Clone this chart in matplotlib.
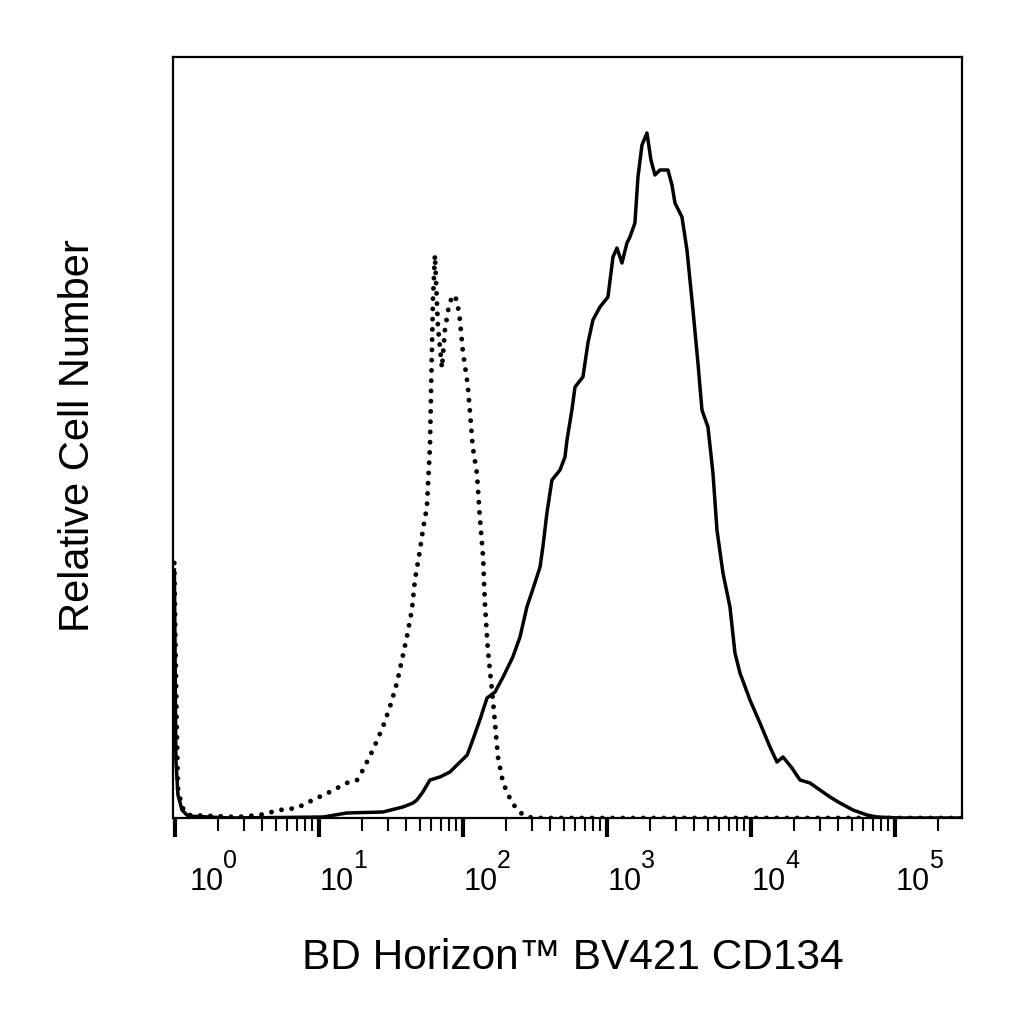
import matplotlib
matplotlib.use("Agg")
import matplotlib.pyplot as plt
import matplotlib.transforms as mtransforms
from matplotlib.ticker import LogLocator, NullFormatter, NullLocator

plt.rcParams['font.family'] = ['Liberation Sans', 'DejaVu Sans']

# Isotype control (dotted)
iso_x = [0.99, 1.03, 1.05, 1.12, 1.23, 2.70, 3.89, 5.36, 7.03, 9.08, 11.9, 15.6,
         18.4, 20.2, 23.7, 27.8, 31.1, 34.8, 37.7, 40.8, 44.2, 46.4, 50.3, 52.7,
         56.2, 59.0, 59.9, 60.9, 61.9, 63.9, 67.1, 71.5, 75.0, 80.0, 85.2, 90.9,
         95.3, 100, 108, 117, 125, 131, 138, 142, 149, 159, 167, 175, 190, 219,
         261, 306, 1000, 10000, 100000, 292000]
iso_y = [255, 90, 30, 11, 3, 1, 3, 8, 10, 18, 26, 35,
         38, 48, 68, 91, 111, 135, 158, 181, 208, 238, 268, 288,
         311, 371, 418, 468, 518, 563, 491, 450, 488, 513, 523, 518,
         498, 466, 433, 371, 345, 301, 261, 215, 168, 128, 95, 61, 35, 15,
         3, 0, 0, 0, 0, 0]

# CD134 stained (solid)
cd134_x = [0.992, 1.016, 1.05, 1.12, 1.23, 2.41, 10.7, 15.6, 27.8, 38.3, 45.0, 47.9,
           52.7, 59.0, 69.2, 81.2, 90.9, 107, 117, 131, 147, 167, 190, 222, 249,
           278, 316, 343, 359, 383, 415, 472, 511, 528, 571, 600, 681, 738, 799,
           894, 1016, 1101, 1173, 1271, 1377, 1444, 1564, 1642, 1751, 1896, 2021,
           2154, 2334, 2652, 2828, 2967, 3318, 3594, 3956, 4284, 4569, 5028, 5446,
           5806, 6391, 7147, 7743, 8388, 9842, 11548, 13551, 15157, 16681, 19265,
           21891, 25686, 30142, 35374, 41512, 51094, 63940, 74989, 108320, 292000]
cd134_y = [248, 58, 23, 8, 2, 0, 1, 5, 6, 11, 15, 18,
           26, 38, 41, 46, 53, 63, 78, 98, 120, 126, 141, 161, 181,
           211, 235, 251, 271, 305, 338, 348, 361, 378, 408, 431, 441, 475, 498,
           511, 521, 561, 570, 555, 575, 581, 595, 641, 673, 685, 658,
           643, 648, 648, 633, 615, 601, 568, 508, 455, 408, 391, 345,
           288, 245, 211, 165, 145, 118, 95, 71, 56, 61, 50,
           38, 35, 28, 21, 15, 8, 3, 1, 0, 0]

decades = [1, 10, 100, 1000, 10000, 100000]
decade_exponents = ['0', '1', '2', '3', '4', '5']
x_title = 'BD Horizon™ BV421 CD134'
y_title = 'Relative Cell Number'

fig = plt.figure(figsize=(10.24, 10.24), dpi=100)
ax = fig.add_axes([173/1024, 1-818/1024, (962-173)/1024, (818-57)/1024])

ax.plot(cd134_x, cd134_y, color='black', lw=2.5, solid_joinstyle='round')
ax.plot(iso_x, iso_y, color='black', lw=3.5, linestyle=(0, (0.01, 2.1)),
        dash_capstyle='round')

ax.set_xscale('log')
ax.set_xlim(0.97, 292000)
ax.set_ylim(0, 761)

ax.xaxis.set_major_locator(LogLocator(base=10, numticks=10))
ax.xaxis.set_minor_locator(LogLocator(base=10, subs=range(2, 10), numticks=20))
ax.xaxis.set_major_formatter(NullFormatter())
ax.xaxis.set_minor_formatter(NullFormatter())
ax.yaxis.set_major_locator(NullLocator())
ax.yaxis.set_minor_locator(NullLocator())
ax.tick_params(axis='x', which='major', direction='out', length=14, width=3, color='black')
ax.tick_params(axis='x', which='minor', direction='out', length=9, width=1.5, color='black')

for s in ax.spines.values():
    s.set_linewidth(1.6)
    s.set_color('black')

trans = mtransforms.blended_transform_factory(ax.transData, ax.transAxes)
base_y = -(890 - 818) / 761
for i, (d, ex) in enumerate(zip(decades, decade_exponents)):
    dx = 15 if i == 0 else 1
    t_base = mtransforms.offset_copy(trans, fig=fig, x=dx, y=0, units='dots')
    t_sup = mtransforms.offset_copy(trans, fig=fig, x=dx + 33, y=22, units='dots')
    ax.text(d, base_y, '10', transform=t_base, ha='left', va='baseline',
            fontsize=22, color='black')
    ax.text(d, base_y, ex, transform=t_sup, ha='left', va='baseline',
            fontsize=18, color='black')

fig.text(573/1024, 1-969/1024, x_title, ha='center', va='baseline', fontsize=30.5)
fig.text(78/1024, 1-436/1024, y_title, ha='center', va='center', rotation=90, fontsize=30)

fig.savefig('out.png', dpi=100, facecolor='white')
